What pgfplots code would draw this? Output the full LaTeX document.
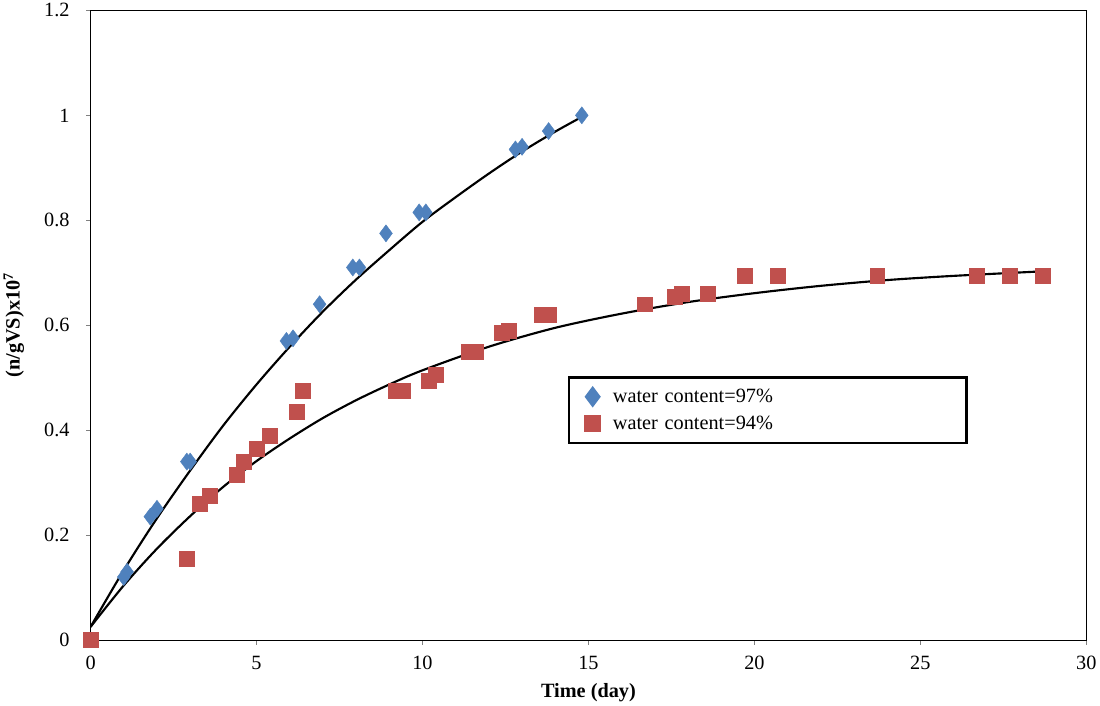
\documentclass[border=0pt]{standalone}
\usepackage{pgfplots}
\pgfplotsset{compat=1.18}
\usepackage{fontspec}
\setmainfont{Liberation Serif}
\definecolor{xblue}{RGB}{79,129,189}
\definecolor{xred}{RGB}{192,80,77}
\begin{document}
\begin{tikzpicture}
\begin{axis}[
  width=930bp, height=588bp, scale only axis,
  xmin=0,xmax=30,ymin=0,ymax=1.2,
  xtick={0,5,...,30}, ytick={0,0.2,...,1.2},
  yticklabels={0,0.2,0.4,0.6,0.8,1,1.2},
  tick align=outside, tick pos=left,
  /pgf/number format/assume math mode=true,
  ticklabel style={font=\fontsize{19}{19}\selectfont},
  yticklabel style={xshift=-12pt},
  xticklabel style={yshift=-7pt},
  xlabel={\textbf{Time (day)}}, ylabel={\textbf{(n/gVS)x10\textsuperscript{7}}},
  label style={font=\fontsize{19}{19}\selectfont},
  xlabel style={yshift=-6pt},
  ylabel style={yshift=12pt},
  legend style={at={(0.479,0.311)},anchor=south west,draw=black,line width=2.5pt,
    font=\fontsize{19}{19}\selectfont,inner xsep=8pt,inner ysep=9pt,
    text width=330bp, row sep=7pt},
  legend cell align=left,
  legend image code/.code={\draw[#1] (0.4em,0) -- plot coordinates {(0.6cm,0)};},
]
\addplot[only marks,mark=diamond*,mark size=8pt,color=xblue] coordinates {
(1.0,0.12)(1.1,0.13)(1.8,0.235)(2.0,0.25)(2.9,0.34)(3.0,0.34)(5.9,0.57)(6.1,0.575)(6.9,0.64)(7.9,0.71)(8.1,0.71)(8.9,0.775)(9.9,0.815)(10.1,0.815)(12.8,0.935)(13.0,0.94)(13.8,0.97)(14.8,1.0)};
\addlegendentry{\hspace{10pt}water content=97\%}
\addplot[only marks,mark=square*,mark size=7pt,color=xred] coordinates {
(0,0)(2.9,0.155)(3.3,0.26)(3.6,0.275)(4.4,0.315)(4.6,0.34)(5.0,0.365)(5.4,0.39)(6.2,0.435)(6.4,0.475)(9.2,0.475)(9.4,0.475)(10.2,0.495)(10.4,0.505)(11.4,0.55)(11.6,0.55)(12.4,0.585)(12.6,0.59)(13.6,0.62)(13.8,0.62)(16.7,0.64)(17.6,0.655)(17.8,0.66)(18.6,0.66)(19.7,0.695)(20.7,0.695)(23.7,0.695)(26.7,0.695)(27.7,0.695)(28.7,0.695)};
\addlegendentry{\hspace{10pt}water content=94\%}
\addplot[black,line width=2pt,smooth,forget plot] coordinates {
(0,0.025)(1,0.133)(2,0.232)(3,0.323)(4,0.409)(5,0.487)(6,0.559)(7,0.626)(8,0.687)(9,0.743)(10,0.797)(11,0.844)(12,0.889)(13,0.931)(14,0.969)(14.8,0.997)};
\addplot[black,line width=2pt,smooth,forget plot] coordinates {
(0,0.025)(1,0.104)(2,0.174)(3,0.236)(4,0.292)(5,0.341)(6,0.384)(7,0.423)(8,0.457)(9,0.487)(10,0.514)(12,0.559)(14,0.595)(16,0.622)(18,0.644)(20,0.661)(22,0.675)(24,0.686)(26,0.694)(28.8,0.703)};
\end{axis}
\end{tikzpicture}
\end{document}
